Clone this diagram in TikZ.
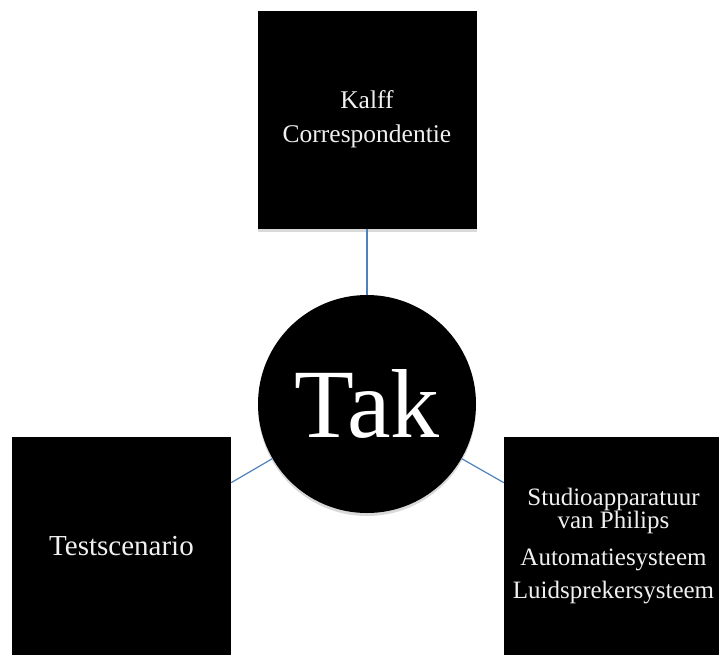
\documentclass[tikz,border=0pt]{standalone}
\usepackage{fontspec}
\setmainfont{Liberation Serif}
\usepackage{tikz}
\usetikzlibrary{positioning}
\usetikzlibrary{shapes,shadows}
\definecolor{linkblue}{RGB}{79,129,189}
\tikzstyle{block} = [rectangle, fill=black, text=white!94!black, 
    minimum width=219pt, minimum height=218pt, inner sep=0pt, align=center,
    drop shadow={opacity=0.3, shadow xshift=0pt, shadow yshift=-3pt}]
\tikzstyle{hub} = [circle, fill=black, text=white, minimum size=218pt, inner sep=0pt,
    drop shadow={opacity=0.3, shadow xshift=0pt, shadow yshift=-3pt}]
\tikzstyle{line} = [draw, linkblue, line width=1.2pt]

\begin{document}
\begin{tikzpicture}[x=1pt, y=-1pt]
        \useasboundingbox (0,0) rectangle (719,654);
        % nodes
        \node [hub, font=\fontsize{98}{98}\selectfont] (tak) at (367,404) {Tak};
        \node [block, above=66pt of tak, font=\fontsize{25.5}{34}\selectfont] (kalff) {Kalff\\Correspondentie};
        \node [block, font=\fontsize{29}{33}\selectfont] (test) at (121.5,546) {Testscenario};
        \node [block, font=\fontsize{25}{23}\selectfont] (philips) at (613.5,546)
            {Studioapparatuur\\van Philips\\[14pt]Automatiesysteem\\[10pt]Luidsprekersysteem};
        % edges
        \path [line] (kalff) -- (tak);
        \path [line] (tak.210) -- (test.30);
        \path [line] (tak.330) -- (philips.150);
    \end{tikzpicture}
\end{document}
